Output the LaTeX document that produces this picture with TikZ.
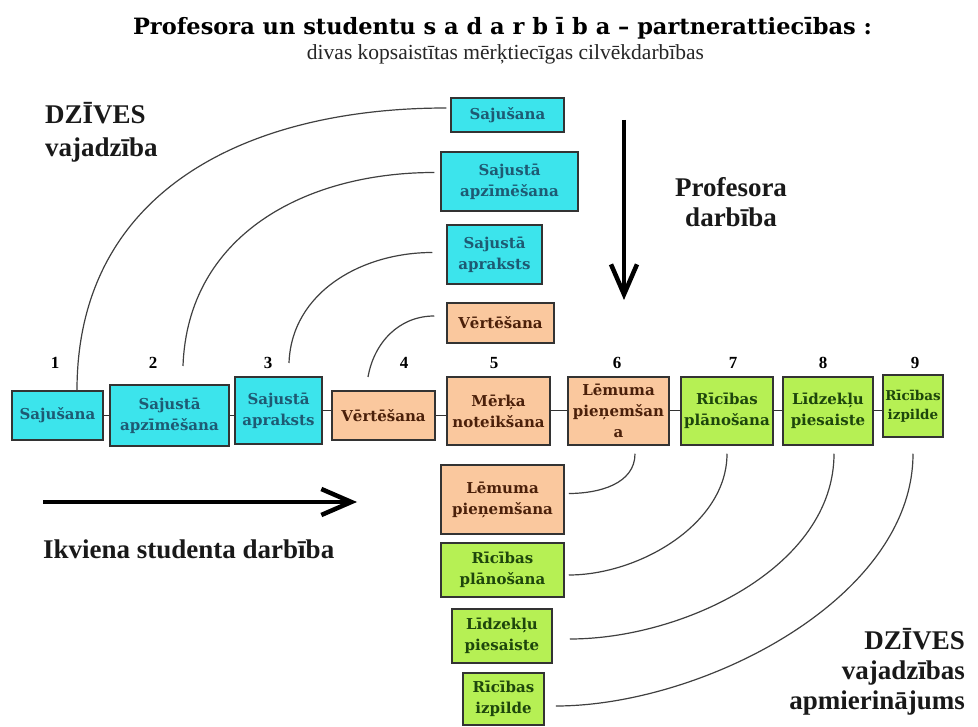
\documentclass[tikz,border=0pt]{standalone}
\usepackage{fontspec}
\setmainfont{Liberation Serif}
\newfontfamily\boxfont{DejaVu Serif}
\usetikzlibrary{arrows.meta}

\definecolor{boxcyan}{RGB}{60,228,236}
\definecolor{boxpeach}{RGB}{250,200,158}
\definecolor{boxgreen}{RGB}{182,240,84}
\definecolor{cyantext}{RGB}{30,90,115}
\definecolor{peachtext}{RGB}{75,32,10}
\definecolor{greentext}{RGB}{30,70,12}

\begin{document}
\begin{tikzpicture}[x=1pt, y=-1pt,
		box/.style={draw=black!80, line width=1.5pt, inner sep=0pt, align=center, font=\boxfont\bfseries\fontsize{15}{21}\selectfont},
		cyanbox/.style={box, fill=boxcyan, text=cyantext},
		peachbox/.style={box, fill=boxpeach, text=peachtext},
		greenbox/.style={box, fill=boxgreen, text=greentext},
		boxsize/.style 2 args={minimum width=#1pt, minimum height=#2pt},
		joinline/.style={black!80, line width=1pt},
		arcline/.style={black!75, line width=1.2pt},
		bigarrow/.style={line width=4.5pt, -{Straight Barb[length=30pt,width=26pt]}},
		bigtext/.style={font=\bfseries\fontsize{27}{30}\selectfont, text=black!90, inner sep=0pt},
		numtext/.style={font=\bfseries\fontsize{17}{20}\selectfont, inner sep=0pt}]
		\fill[white] (0,0) rectangle (978,727);
		\useasboundingbox (0,0) rectangle (978,727);

		\node[font=\boxfont\bfseries\fontsize{22.5}{26}\selectfont, anchor=base] (title) at (502.5,35) {Profesora un studentu s a d a r b ī b a – partnerattiecības :};
		\node[font=\fontsize{21.5}{24}\selectfont, text=black!85, anchor=base] (subtitle) at (505.5,60) {divas kopsaistītas mērķtiecīgas cilvēkdarbības};

		% main row
		\node[cyanbox, boxsize={91}{49}] (s1) at (57.5,415.5) {Sajušana};
		\node[cyanbox, boxsize={119}{61}] (s2) at (169.5,415.5) {Sajustā\\apzīmēšana};
		\node[cyanbox, boxsize={87}{67}] (s3) at (278.5,410.5) {Sajustā\\apraksts};
		\node[peachbox, boxsize={103}{49}] (s4) at (383.5,415.5) {Vērtēšana};
		\node[peachbox, boxsize={103}{68}] (s5) at (498.5,411) {Mērķa\\noteikšana};
		\node[peachbox, boxsize={101}{68}] (s6) at (618.5,411) {Lēmuma\\pieņemšan\\a};
		\node[greenbox, boxsize={92}{68}] (s7) at (727,411) {Rīcības\\plānošana};
		\node[greenbox, boxsize={90}{68}] (s8) at (828,411) {Līdzekļu\\piesaiste};
		\node[greenbox, boxsize={60}{62}, font=\boxfont\bfseries\fontsize{13.5}{19}\selectfont] (s9) at (913,406) {Rīcības\\izpilde};
		\foreach \i/\j in {1/2,2/3,3/4,4/5,5/6,6/7,7/8,8/9}
			\draw[joinline] (s\i.east) -- (s\i.east -| s\j.west);
		\foreach \n/\x in {1/55,2/153,3/268,4/404,5/494,6/617,7/733,8/823,9/915}
			\node[numtext] (n\n) at (\x,363) {\n};

		% upper stack
		\node[cyanbox, boxsize={113}{34}] (t1) at (507.5,115) {Sajušana};
		\node[cyanbox, boxsize={137}{59}] (t2) at (509.5,181.5) {Sajustā\\apzīmēšana};
		\node[cyanbox, boxsize={95}{59}] (t3) at (494.5,254.5) {Sajustā\\apraksts};
		\node[peachbox, boxsize={107}{40}] (t4) at (500.5,323) {Vērtēšana};

		% lower stack
		\node[peachbox, boxsize={123}{69}] (b6) at (502.5,499.5) {Lēmuma\\pieņemšana};
		\node[greenbox, boxsize={123}{54}] (b7) at (502.5,570) {Rīcības\\plānošana};
		\node[greenbox, boxsize={100}{54}] (b8) at (502,636) {Līdzekļu\\piesaiste};
		\node[greenbox, boxsize={81}{52}] (b9) at (503.5,699) {Rīcības\\izpilde};

		\coordinate (e2) at (183,366);
		\coordinate (e3) at (289,363);
		\coordinate (e4) at (368,377);
		\draw[arcline] ([xshift=19.5pt]s1.north) to[out=90, in=180, looseness=1.1] ([shift={(-4,-7)}]t1.west);
		\draw[arcline] (e2) to[out=88, in=180, looseness=1.05] ([shift={(-6,-9)}]t2.west);
		\draw[arcline] (e3) to[out=88, in=180] ([shift={(-14,-2)}]t3.west);
		\draw[arcline] (e4) to[out=80, in=180] ([shift={(-12,-7)}]t4.west);

		\draw[arcline] ([shift={(4,-6)}]b6.east) to[out=0, in=-90] ([shift={(16.5,8)}]s6.south);
		\draw[arcline] ([shift={(4,5)}]b7.east) to[out=0, in=-90, looseness=0.9] ([shift={(0,8)}]s7.south);
		\draw[arcline] ([shift={(17,3)}]b8.east) to[out=0, in=-90, looseness=0.9] ([shift={(6,8)}]s8.south);
		\draw[arcline] ([shift={(11,7)}]b9.east) to[out=0, in=-90, looseness=0.85] ([shift={(0,16)}]s9.south);

		% actions
		\coordinate (pa) at (624,120);
		\coordinate (pb) at (624,300);
		\draw[bigarrow] (pa) -- (pb);
		\coordinate (sa) at (43,502);
		\coordinate (sb) at (357,502);
		\draw[bigarrow] (sa) -- (sb);

		\node[bigtext, align=left, anchor=north west] (need) at (45,102) {DZĪVES\\[3pt]vajadzība};
		\node[bigtext, align=center, anchor=north] (prof) at (731,177) {Profesora\\darbība};
		\node[bigtext, anchor=base west] (stud) at (43,558) {Ikviena studenta darbība};
		\node[bigtext, align=right, anchor=north east] (done) at (965,628) {DZĪVES\\vajadzības\\apmierinājums};
	\end{tikzpicture}
\end{document}
